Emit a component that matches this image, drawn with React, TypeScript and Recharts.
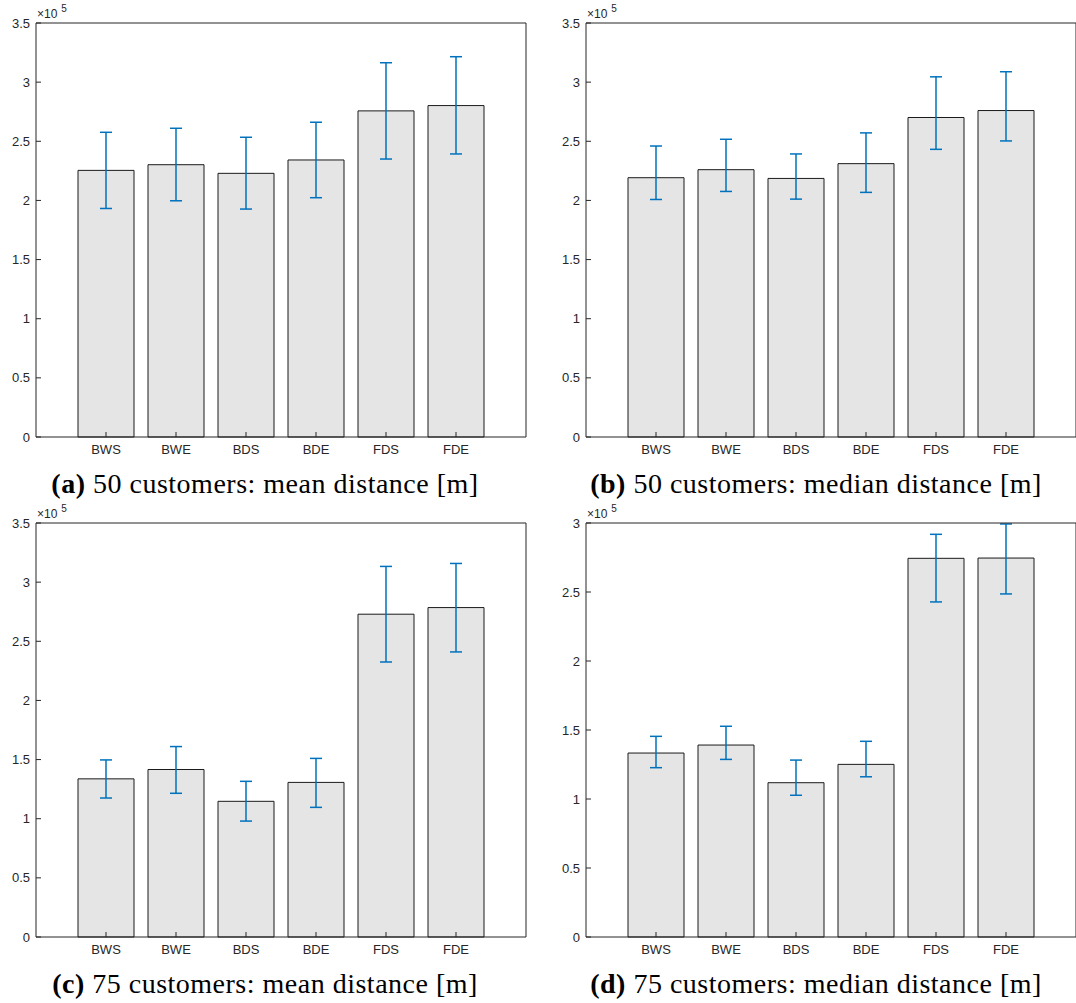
import { BarChart, Bar, XAxis, YAxis, ErrorBar } from 'recharts'

const categories = ['BWS', 'BWE', 'BDS', 'BDE', 'FDS', 'FDE']

// (a) 50 customers, mean distance
const mean50 = [225400, 230200, 222900, 234200, 275700, 280200]
const mean50Low = [193200, 199700, 192700, 202300, 235000, 239300]
const mean50High = [257600, 261000, 253400, 266100, 316400, 321500]

// (b) 50 customers, median distance
const median50 = [219200, 226000, 218600, 231100, 270100, 276000]
const median50Low = [200800, 207600, 201100, 206800, 243200, 250300]
const median50High = [246000, 251700, 239300, 257100, 304500, 308800]

// (c) 75 customers, mean distance
const mean75 = [133700, 141600, 114700, 130700, 272900, 278500]
const mean75Low = [117500, 121500, 98000, 109600, 232500, 241000]
const mean75High = [149700, 161000, 131600, 151000, 313300, 315800]

// (d) 75 customers, median distance
const median75 = [133300, 139100, 111800, 125100, 274400, 274600]
const median75Low = [122700, 128700, 102700, 116100, 242800, 248600]
const median75High = [145400, 152700, 128200, 141800, 291800, 299300]

const ticks35 = [0, 50000, 100000, 150000, 200000, 250000, 300000, 350000]
const ticks30 = [0, 50000, 100000, 150000, 200000, 250000, 300000]

const AXIS = '#262626'
const SANS = '"Liberation Sans", Arial, Helvetica, sans-serif'
const SERIF = '"Liberation Serif", "Times New Roman", serif'

interface PanelProps {
  left: number
  top: number
  values: number[]
  low: number[]
  high: number[]
  ticks: number[]
  letter: string
  caption: string
  captionCenter: number
}

function Panel({ left, top, values, low, high, ticks, letter, caption, captionCenter }: PanelProps) {
  const data = categories.map((name, i) => ({
    name,
    value: values[i],
    err: [values[i] - low[i], high[i] - values[i]],
  }))
  const yMax = ticks[ticks.length - 1]

  return (
    <>
      <div style={{ position: 'absolute', left, top, width: 540, height: 460 }}>
        <BarChart
          width={540}
          height={460}
          data={data}
          margin={{ top: 22, right: 13, bottom: 0, left: 6 }}
          barCategoryGap="10%"
        >
          <XAxis
            dataKey="name"
            height={23}
            padding={{ left: 35, right: 35 }}
            tickSize={-5}
            tickMargin={13}
            stroke={AXIS}
            tick={{ fill: AXIS, fontSize: 13, fontFamily: SANS }}
            interval={0}
          />
          <XAxis
            xAxisId="top"
            dataKey="name"
            orientation="top"
            height={1}
            padding={{ left: 35, right: 35 }}
            tickSize={-5}
            stroke={AXIS}
            tick={false}
            interval={0}
          />
          <YAxis
            width={30}
            domain={[0, yMax]}
            ticks={ticks}
            tickSize={-5}
            tickMargin={11}
            stroke={AXIS}
            tick={{ fill: AXIS, fontSize: 13, fontFamily: SANS }}
            tickFormatter={(v: number) => String(v / 100000)}
            interval={0}
          />
          <YAxis
            yAxisId="right"
            orientation="right"
            width={1}
            domain={[0, yMax]}
            ticks={ticks}
            tickSize={-5}
            stroke={AXIS}
            tick={false}
            interval={0}
          />
          <Bar dataKey="value" fill="#e5e5e5" stroke="#1a1a1a" strokeWidth={1} isAnimationActive={false}>
            <ErrorBar
              dataKey="err"
              direction="y"
              width={6}
              stroke="#0072BD"
              strokeWidth={1.5}
              isAnimationActive={false}
            />
          </Bar>
        </BarChart>
        <div
          style={{
            position: 'absolute',
            left: 37,
            top: 7,
            fontFamily: SANS,
            fontSize: 12,
            lineHeight: '14px',
            color: AXIS,
            whiteSpace: 'nowrap',
          }}
        >
          ×10
          <span style={{ fontSize: 10, position: 'relative', top: -6, marginLeft: 4 }}>5</span>
        </div>
      </div>
      <div
        style={{
          position: 'absolute',
          left: captionCenter - 260,
          width: 520,
          top: top + 470,
          textAlign: 'center',
          fontFamily: SERIF,
          fontSize: 28,
          lineHeight: '28px',
          letterSpacing: 0.5,
          color: '#000',
          whiteSpace: 'nowrap',
        }}
      >
        <b>({letter})</b> {caption}
      </div>
    </>
  )
}

export default function App() {
  return (
    <div
      style={{
        position: 'absolute',
        left: 0,
        top: 0,
        width: 1076,
        height: 1003,
        overflow: 'hidden',
        background: '#fff',
      }}
    >
      <Panel left={0} top={0} values={mean50} low={mean50Low} high={mean50High} ticks={ticks35}
        letter="a" caption="50 customers: mean distance [m]" captionCenter={265} />
      <Panel left={550} top={0} values={median50} low={median50Low} high={median50High} ticks={ticks35}
        letter="b" caption="50 customers: median distance [m]" captionCenter={816} />
      <Panel left={0} top={500} values={mean75} low={mean75Low} high={mean75High} ticks={ticks35}
        letter="c" caption="75 customers: mean distance [m]" captionCenter={265} />
      <Panel left={550} top={500} values={median75} low={median75Low} high={median75High} ticks={ticks30}
        letter="d" caption="75 customers: median distance [m]" captionCenter={816} />
    </div>
  )
}
